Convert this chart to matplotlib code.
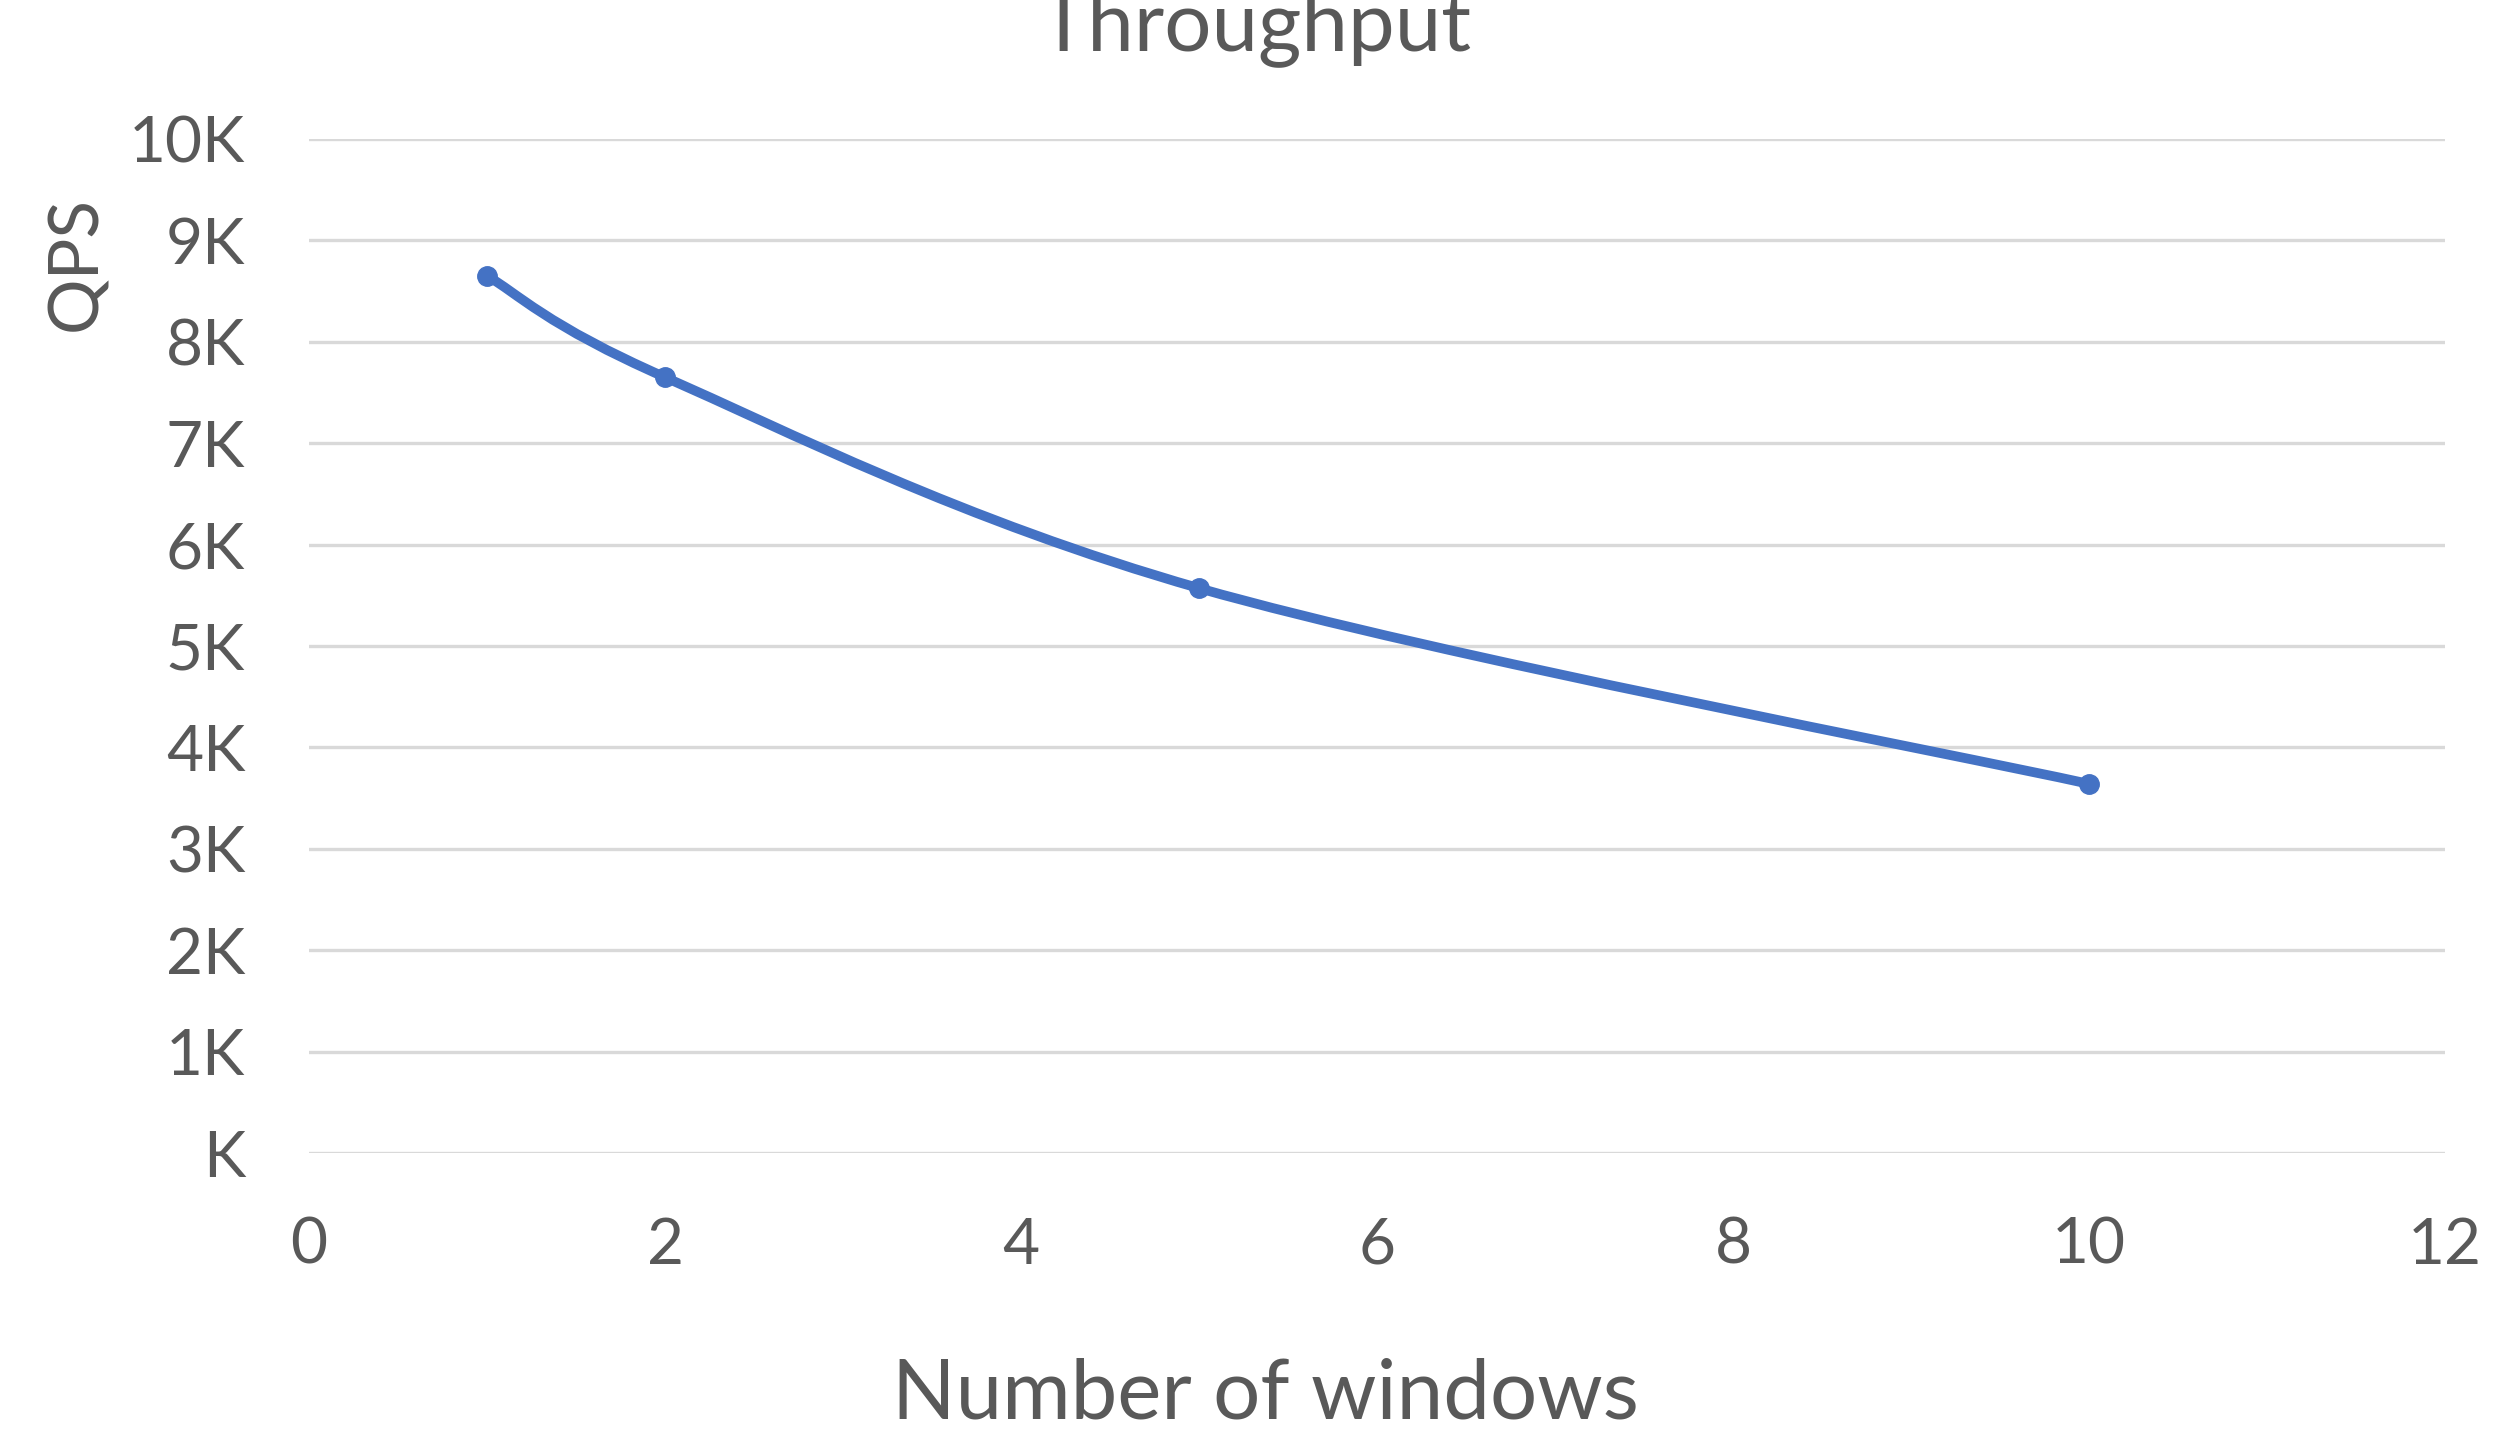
import numpy as np
import matplotlib.pyplot as plt
from matplotlib.path import Path
from matplotlib.patches import PathPatch

windows = [1, 2, 5, 10]
qps = [8650, 7650, 5570, 3640]

x_ticks = [0, 2, 4, 6, 8, 10, 12]
y_ticks = [0, 1000, 2000, 3000, 4000, 5000, 6000, 7000, 8000, 9000, 10000]
y_tick_labels = ["K", "1K", "2K", "3K", "4K", "5K", "6K", "7K", "8K", "9K", "10K"]

line_color = "#4472C4"
text_color = "#595959"
grid_color = "#D9D9D9"

plt.rcParams["font.family"] = ["Lato", "DejaVu Sans"]

fig = plt.figure(figsize=(25.11, 14.40), dpi=100)
ax = fig.add_axes([0.1231, 0.1993, 0.8506, 0.7042])


# excel-style smoothed line: cardinal spline turned into cubic bezier segments
def smooth_path(xs, ys):
    pts = np.column_stack([xs, ys]).astype(float)
    padded = np.vstack([pts[0], pts, pts[-1]])
    verts = [pts[0]]
    codes = [Path.MOVETO]
    for i in range(len(pts) - 1):
        p0, p1, p2, p3 = padded[i], padded[i + 1], padded[i + 2], padded[i + 3]
        c1 = p1 + (p2 - p0) / 6.0
        c2 = p2 - (p3 - p1) / 6.0
        verts += [c1, c2, p2]
        codes += [Path.CURVE4] * 3
    return Path(verts, codes)


ax.add_patch(PathPatch(smooth_path(windows, qps), facecolor="none",
                       edgecolor=line_color, linewidth=7,
                       capstyle="round", joinstyle="round", zorder=3))
ax.plot(windows, qps, linestyle="none", marker="o", markersize=14,
        color=line_color, zorder=4)

ax.set_xlim(0, 12)
ax.set_ylim(0, 10000)
ax.set_xticks(x_ticks)
ax.set_yticks(y_ticks)
ax.set_yticklabels(y_tick_labels)
ax.grid(axis="y", color=grid_color, linewidth=2.4, zorder=0)
ax.set_axisbelow(True)
for s in ax.spines.values():
    s.set_visible(False)
ax.tick_params(axis="both", length=0, labelsize=46, labelcolor=text_color)
ax.tick_params(axis="y", pad=46)
ax.tick_params(axis="x", pad=46)

fig.text(0.4998, 0.9653, "Throughput", ha="center", va="baseline",
         fontsize=60, color=text_color)
fig.text(0.504, 0.0146, "Number of windows", ha="center", va="baseline",
         fontsize=60, color=text_color)
fig.text(0.0307, 0.8167, "QPS", ha="center", va="center", rotation=90,
         fontsize=50, color=text_color)

fig.savefig("out.png", dpi=100)
